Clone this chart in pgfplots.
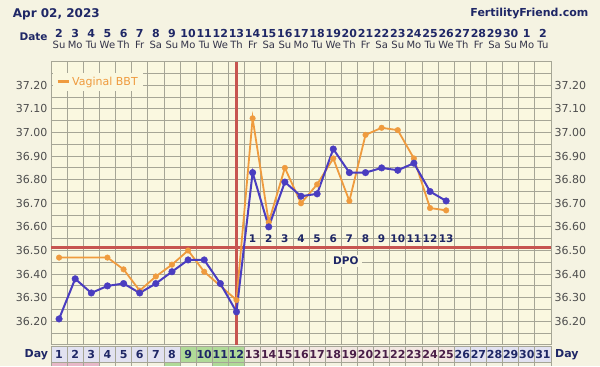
\documentclass[border=0pt]{standalone}
\usepackage{pgfplots}
\pgfplotsset{compat=1.18}
\usepackage{fontspec}
\setmainfont{DejaVu Sans}
\definecolor{outerbg}{HTML}{F5F3E2}
\definecolor{plotbg}{HTML}{FAF8E0}
\definecolor{gridc}{HTML}{A6A696}
\definecolor{bluel}{HTML}{4A3DC0}
\definecolor{orangel}{HTML}{EF9B3E}
\definecolor{redl}{HTML}{C75550}
\definecolor{navy}{HTML}{1F2766}
\definecolor{plum}{HTML}{4A1F48}
\definecolor{lav}{HTML}{E2E2F1}
\definecolor{greenc}{HTML}{B0DA98}
\definecolor{pinkc}{HTML}{F3E8E2}
\definecolor{pinks}{HTML}{E8B8C8}
\definecolor{tickc}{HTML}{4D4D4D}
\definecolor{wkc}{HTML}{333348}
\pgfplotsset{base/.style={scale only axis, width=500pt, height=283.2pt,
  at={(51pt,21.1pt)}, anchor=south west,
  xmin=0.5, xmax=31.5, ymin=36.1, ymax=37.3,
  major tick length=0pt, minor tick length=0pt,
  /pgf/number format/assume math mode=true}}
\begin{document}
\begin{tikzpicture}
\fill[outerbg] (0pt,0pt) rectangle (600pt,366pt);
% main axis
\begin{axis}[base,
  axis background/.style={fill=plotbg},
  axis line style={gridc, line width=0.8pt},
  xtick={1,...,31},
  xticklabels={2,3,4,5,6,7,8,9,10,11,12,13,14,15,16,17,18,19,20,21,22,23,24,25,26,27,28,29,30,1,2},
  xticklabel pos=upper,
  xticklabel style={font=\fontsize{11}{13}\selectfont\bfseries, text=navy, anchor=base, yshift=24.2pt, inner sep=0pt},
  minor xtick={0.5,1.5,...,31.5},
  xminorgrids=true, xmajorgrids=false,
  ytick={36.2,36.3,36.4,36.5,36.6,36.7,36.8,36.9,37.0,37.1,37.2},
  minor ytick={36.15,36.25,36.35,36.45,36.55,36.65,36.75,36.85,36.95,37.05,37.15,37.25},
  ymajorgrids=true, yminorgrids=true,
  major grid style={gridc, line width=0.8pt},
  minor grid style={gridc, line width=0.8pt},
  yticklabel style={font=\fontsize{11}{13}\selectfont, text=tickc,
    /pgf/number format/.cd, fixed, fixed zerofill, precision=2},
  clip=false,
  legend style={at={(0.004,0.962)}, anchor=north west, draw=none, fill=plotbg,
    font=\fontsize{11}{13}\selectfont, text=orangel, inner xsep=3pt, inner ysep=2pt},
  legend cell align=left,
]
% day row cells
\fill[lav] (axis cs:0.5,36.0275) rectangle (axis cs:8.5,36.0953);
\fill[greenc] (axis cs:8.5,36.0275) rectangle (axis cs:12.5,36.0953);
\fill[pinkc] (axis cs:12.5,36.0275) rectangle (axis cs:25.5,36.0953);
\fill[lav] (axis cs:25.5,36.0275) rectangle (axis cs:31.5,36.0953);
\fill[pinks] (axis cs:0.5,36.0106) rectangle (axis cs:3.5,36.0275);
\fill[greenc] (axis cs:7.5,36.0106) rectangle (axis cs:8.5,36.0275);
\fill[greenc] (axis cs:10.5,36.0106) rectangle (axis cs:12.5,36.0275);
\pgfplotsinvokeforeach{0.5,1.5,...,31.5}{\draw[gridc, line width=0.8pt] (axis cs:#1,36.0106) -- (axis cs:#1,36.0953);}
\draw[gridc, line width=0.8pt] (axis cs:0.5,36.0953) -- (axis cs:31.5,36.0953);
\draw[gridc, line width=0.8pt] (axis cs:0.5,36.0275) -- (axis cs:31.5,36.0275);
% red lines
\draw[redl, line width=2.3pt] (axis cs:12,36.1) -- (axis cs:12,37.3);
\draw[redl, line width=2.6pt] (axis cs:0.5,36.512) -- (axis cs:31.5,36.512);
% DPO labels
\begin{scope}[every node/.style={font=\fontsize{10.5}{12}\selectfont\bfseries, text=navy, inner sep=0pt}]
\node at (axis cs:13,36.55) {1};
\node at (axis cs:14,36.55) {2};
\node at (axis cs:15,36.55) {3};
\node at (axis cs:16,36.55) {4};
\node at (axis cs:17,36.55) {5};
\node at (axis cs:18,36.55) {6};
\node at (axis cs:19,36.55) {7};
\node at (axis cs:20,36.55) {8};
\node at (axis cs:21,36.55) {9};
\node at (axis cs:22,36.55) {10};
\node at (axis cs:23,36.55) {11};
\node at (axis cs:24,36.55) {12};
\node at (axis cs:25,36.55) {13};
\end{scope}
\node[fill=plotbg, inner xsep=3pt, inner ysep=2pt, font=\fontsize{10.5}{12}\selectfont\bfseries, text=navy] at (axis cs:18.78,36.456) {DPO};
% vaginal BBT
\addplot[orangel, line width=1.8pt, mark=*, mark size=2.8pt, mark options={solid, fill=orangel, draw=orangel, line width=0.4pt},
  legend image code/.code={\draw[orangel, line width=3pt] (0pt,0pt) -- (11pt,0pt);}] coordinates {
(1,36.47) (4,36.47) (5,36.42) (6,36.33) (7,36.39) (8,36.44) (9,36.50) (10,36.41) (12,36.29)
(13,37.06) (14,36.62) (15,36.85) (16,36.70) (17,36.78) (18,36.89) (19,36.71) (20,36.99)
(21,37.02) (22,37.01) (23,36.89) (24,36.68) (25,36.67)};
\addlegendentry{Vaginal BBT}
% main BBT
\addplot[bluel, line width=2pt, mark=*, mark size=3.3pt, mark options={solid, fill=bluel, draw=bluel, line width=0.4pt}, forget plot] coordinates {
(1,36.21) (2,36.38) (3,36.32) (4,36.35) (5,36.36) (6,36.32) (7,36.36) (8,36.41) (9,36.46) (10,36.46)
(11,36.36) (12,36.24) (13,36.83) (14,36.60) (15,36.79) (16,36.73) (17,36.74) (18,36.93) (19,36.83)
(20,36.83) (21,36.85) (22,36.84) (23,36.87) (24,36.75) (25,36.71)};
\end{axis}
% overlay axis: day numbers and right labels
\begin{axis}[base,
  axis line style={draw=none},
  xtick={1,...,31},
  xticklabels={1,2,3,4,5,6,7,8,9,10,11,12,\textcolor{plum}{13},\textcolor{plum}{14},\textcolor{plum}{15},\textcolor{plum}{16},\textcolor{plum}{17},\textcolor{plum}{18},\textcolor{plum}{19},\textcolor{plum}{20},\textcolor{plum}{21},\textcolor{plum}{22},\textcolor{plum}{23},\textcolor{plum}{24},\textcolor{plum}{25},26,27,28,29,30,31},
  xticklabel style={font=\fontsize{11}{13}\selectfont\bfseries, text=navy, anchor=base, yshift=-13.4pt, inner sep=0pt},
  ytick={36.2,36.3,36.4,36.5,36.6,36.7,36.8,36.9,37.0,37.1,37.2},
  yticklabel pos=right,
  yticklabel style={font=\fontsize{11}{13}\selectfont, text=tickc,
    /pgf/number format/.cd, fixed, fixed zerofill, precision=2},
]
\end{axis}
% overlay axis: weekdays
\begin{axis}[base,
  axis line style={draw=none},
  xtick={1,...,31},
  xticklabels={Su,Mo,Tu,We,Th,Fr,Sa,Su,Mo,Tu,We,Th,Fr,Sa,Su,Mo,Tu,We,Th,Fr,Sa,Su,Mo,Tu,We,Th,Fr,Sa,Su,Mo,Tu},
  xticklabel pos=upper,
  xticklabel style={font=\fontsize{10}{12}\selectfont, text=wkc, anchor=base, yshift=13.4pt, inner sep=0pt},
  ytick=\empty,
]
\end{axis}
% titles and side labels
\node[anchor=base west, inner sep=0pt, font=\fontsize{12}{14}\selectfont\bfseries, text=navy] at (12.7pt,348.2pt) {Apr 02, 2023};
\node[anchor=base east, inner sep=0pt, font=\fontsize{11}{13}\selectfont\bfseries, text=navy] at (588.5pt,349pt) {FertilityFriend.com};
\node[anchor=base east, inner sep=0pt, font=\fontsize{10.5}{12}\selectfont\bfseries, text=navy] at (47.7pt,325.5pt) {Date};
\node[anchor=base east, inner sep=0pt, font=\fontsize{11}{13}\selectfont\bfseries, text=navy] at (48.3pt,8.5pt) {Day};
\node[anchor=base west, inner sep=0pt, font=\fontsize{11}{13}\selectfont\bfseries, text=navy] at (555pt,8.5pt) {Day};
\end{tikzpicture}
\end{document}
